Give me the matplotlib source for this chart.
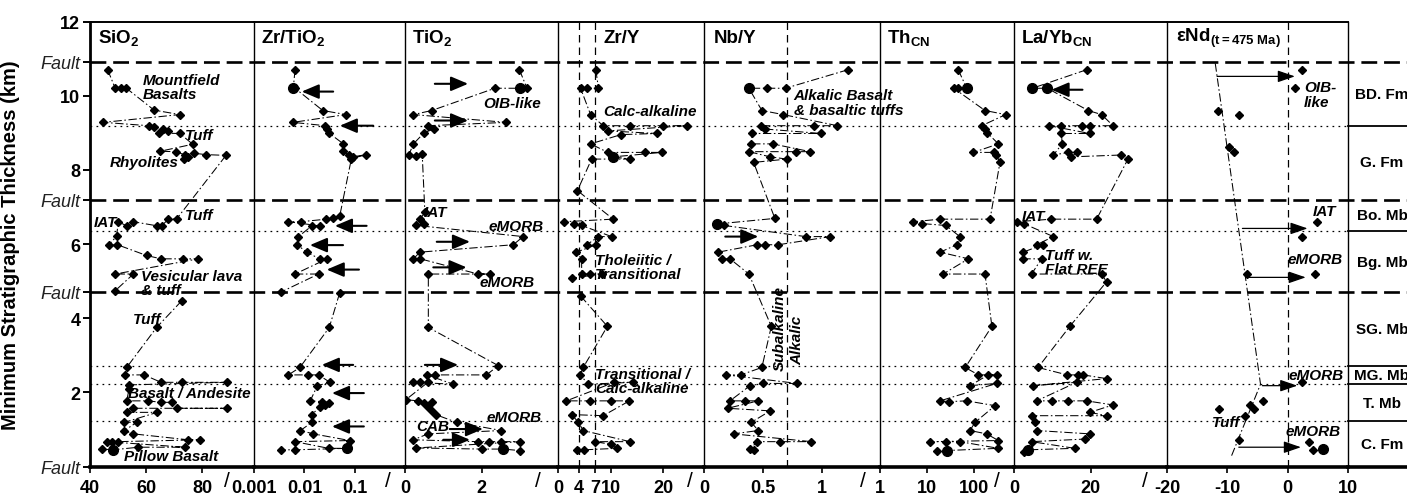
import numpy as np
import matplotlib.pyplot as plt
from matplotlib import font_manager
from matplotlib.ticker import NullLocator

nan = np.nan

# stratigraphic markers (km)
faults = [10.92, 7.2, 4.71, 0.0]
contacts = [9.19, 6.35, 2.71, 2.22, 1.22]
formations = ['BD. Fm', 'G. Fm', 'Bo. Mb', 'Bg. Mb', 'SG. Mb', 'MG. Mb', 'T. Mb', 'C. Fm']
formation_km = [10.05, 8.2, 6.78, 5.52, 3.7, 2.47, 1.72, 0.6]

# SiO2 (wt%)
sio2_km = [10.7, 10.2, 10.2, 10.2, 9.61, 9.49, 9.28, 9.19, 9.15, 9.1, 9.05, 8.99, 8.98, 8.69,
           8.5, 8.49, 8.4, 8.35, 8.3, 8.45, 8.41, 8.39, 6.68, 6.67, 6.49, 6.49, 6.6, 6.49, 6.6,
           6.21, 5.98, 5.98, 5.69, 5.6, 5.6, 5.6, 5.19, 5.19, 4.74, nan,
           4.47, 3.75, 2.67, 2.47, 2.47, 2.27, 2.27, 2.27, 2.2, 2.1, 1.77, 1.77, 1.73, 1.73, 1.57,
           1.57, 1.57, 1.46, 1.46, 1.19, 1.19, 0.97, 0.88, 0.72, 0.72, 0.67, 0.67, 0.67, 0.52,
           0.52, 0.45, 0.47]
sio2_val = [46.3, 49, 51, 53, 62.9, 72.1, 44.8, 61, 63, 66, 68, 64.8, 72.1, 76.7,
            65, 70.7, 74, 75, 73.5, 77, 81.4, 88.6, 71, 68, 65.6, 64, 55.5, 53.1, 50.1,
            49.5, 46.8, 49.8, 60.2, 65.4, 73.3, 78.7, 49, 55.5, 49, nan,
            72.8, 63.8, 53.1, 52.5, 59.3, 65.4, 72.8, 88.8, 53.8, 54, 53.1, 60.8, 65.4, 69.2, 71,
            88.8, 55.5, 53.1, 64, 52.3, 56.7, 52.3, 55.5, 75.1, 79.3, 50, 48, 46, 74,
            57.3, 48.3, 44.2]
sio2_large = [70]

# Zr/TiO2
zrti_km = [10.7, 10.2, 10.2, 9.6, 9.49, 9.28, 9.19, 9.1, 9.0, 8.7, 8.5, 8.4, 8.35, 8.41, 8.3,
           6.76, 6.69, 6.67, 6.6, 6.6, 6.49, 6.49, 6.2, 5.98, 5.78, 5.6, 5.6, 5.19, 5.19, 4.71, nan,
           4.69, 3.75, 2.67, 2.47, 2.47, 2.47, 2.27, 2.18, 1.77, 1.75, 1.7, 1.65, 1.6, 1.4, 1.19,
           0.97, 0.88, 0.7, 0.67, 0.49, 0.49, 0.45, 0.45]
zrti_val = [0.0065, 0.006, 0.0065, 0.023, 0.066, 0.0059, 0.026, 0.028, 0.03, 0.059, 0.059, 0.075,
            0.09, 0.166, 0.085, 0.05, 0.036, 0.027, 0.0085, 0.0048, 0.02, 0.014, 0.0076, 0.0072,
            0.011, 0.02, 0.028, 0.0065, 0.019, 0.0035, nan,
            0.05, 0.031, 0.0081, 0.0048, 0.012, 0.019, 0.032, 0.018, 0.013, 0.022, 0.03, 0.025,
            0.02, 0.014, 0.014, 0.0083, 0.015, 0.079, 0.0065, 0.03, 0.069, 0.0065, 0.0035]
zrti_large = [1, 51]

# TiO2 (wt%)
tio2_km = [10.7, 10.2, 10.2, 10.2, 9.6, 9.49, 9.28, 9.19, 9.1, 9.0, 8.7, 8.4, 8.38, 8.42,
           6.85, 6.67, 6.55, 6.5, 6.2, 5.98, 5.78, 5.6, 5.6, 5.19, 5.19, 5.19, 3.75, 2.72, 2.47,
           2.47, 2.47, 2.22, 2.27, 2.27, 2.27, 1.8, 1.77, 1.7, 1.75, 1.6, 1.5, 1.4, 1.19, 0.97,
           0.88, 0.72, 0.67, 0.67, 0.67, 0.67, 0.5, 0.47, 0.47, 0.43]
tio2_val = [2.99, 3.19, 3.0, 2.35, 0.7, 0.22, 2.65, 0.6, 0.75, 0.5, 0.22, 0.1, 0.3, 0.45,
            0.52, 0.39, 0.5, 0.3, 3.09, 2.83, 0.39, 0.22, 0.4, 1.91, 2.22, 0.61, 0.61, 2.44, 2.13,
            0.78, 0.57, 1.26, 0.22, 0.4, 0.6, 0.02, 0.35, 0.5, 0.7, 0.6, 0.7, 0.8, 1.35, 2.52,
            0.6, 0.22, 1.9, 2.2, 2.5, 3.0, 0.3, 2.0, 2.57, 3.0]
tio2_large = [2, 52]

# Zr/Y
zry_km = [10.7, 10.2, 10.2, 10.2, 9.49, 9.19, 9.19, 9.19, 9.19, 9.05, 8.98, 8.95, 8.7, 8.47,
          8.47, 8.47, 8.35, 8.29, 8.29, 7.44, 6.67, 6.6, 6.55, 6.5, 6.2, 6.2, 5.98, 5.98, 5.78,
          5.6, 5.19, 5.19, 5.19, 5.08, nan,
          4.6, 3.78, 2.67, 2.47, 2.22, 2.27, 2.27, 1.77, 1.77, 1.77, 1.77, 1.37, 1.4, 1.19, 0.97,
          0.67, 0.67, 0.6, 0.49, 0.45, 0.45]
zry_val = [7.2, 7.7, 5.5, 4.3, 6.2, 8.6, 13.8, 20, 24.5, 9.5, 18.8, 12, 6.2, 9.5,
           16.6, 19.8, 10.5, 13.7, 6.4, 3.7, 10.5, 1.1, 3, 4.5, 10.2, 7.7, 5.5, 7.3, 3.5,
           4.5, 4.5, 6.1, 8.4, 2.6, nan,
           4.3, 9.4, 4.8, 4.2, 5.8, 14.3, 10.7, 1.6, 6, 10, 13.6, 8.6, 2.6, 3.9, 4.8,
           13.7, 7, 10, 11.2, 5, 3.7]
zry_large = [16]

# Nb/Y
nby_km = [10.7, 10.2, 10.2, 10.2, 9.6, 9.49, 9.19, 9.19, 9.19, 9.1, 8.98, 8.98, 8.7, 8.7, 8.49,
          8.49, 8.49, 8.35, 8.29, 8.2, 6.69, 6.54, 6.5, 6.2, 6.2, 5.98, 5.98, 5.98, 5.78, 5.6,
          5.6, 5.19, 3.78, 2.67, 2.47, 2.47, 2.24, 2.24, 2.18, 1.77, 1.77, 1.77, 1.57, 1.5, 1.19,
          0.97, 0.88, 0.67, 0.67, 0.67, 0.47, 0.45]
nby_val = [1.22, 0.69, 0.53, 0.38, 0.49, 0.67, 1.13, 0.93, 0.48, 0.52, 0.99, 0.41, 0.4, 0.58, 0.9,
           0.78, 0.38, 0.56, 0.7, 0.42, 0.6, 0.11, 0.17, 0.86, 1.07, 0.63, 0.52, 0.45, 0.12, 0.15,
           0.22, 0.38, 0.57, 0.49, 0.31, 0.19, 0.79, 0.5, 0.39, 0.22, 0.35, 0.46, 0.2, 0.56, 0.4,
           0.46, 0.25, 0.91, 0.64, 0.45, 0.39, 0.42]
nby_large = [3, 21]

# Th (chondrite normalised)
th_km = [10.7, 10.2, 10.2, 10.2, 9.6, 9.49, 9.19, 9.1, 9.0, 8.7, 8.47, 8.47, 8.4, 8.2, 6.67,
         6.67, 6.6, 6.55, 6.5, 6.2, 5.98, 5.78, 5.6, 5.19, 5.19, 3.78, 2.67, 2.47, 2.47, 2.47,
         2.18, 2.24, 1.77, 1.75, 1.77, 1.64, 1.19, 0.97, 0.88, 0.7, 0.67, 0.67, 0.67, 0.49,
         0.43, 0.42]
th_val = [46, 70, 45, 37, 171, 470, 146, 170, 190, 330, 97, 260, 300, 356, 219,
          19, 5.1, 8, 25, 50, 43, 19, 76, 22, 171, 240, 65, 124, 302, 200,
          82, 302, 19, 30, 70, 280, 105, 82, 185, 330, 11.6, 25, 50, 330,
          26, 16]
th_large = [1, 44]

# La/Yb (chondrite normalised)
layb_km = [10.7, 10.2, 10.2, 9.6, 9.49, 9.19, 9.19, 9.19, 9.19, 9.19, 8.98, 8.98, 8.7, 8.4,
           8.47, 8.47, 8.35, 8.4, 8.29, 6.67, 6.67, 6.6, 6.55, 6.2, 5.98, 5.98, 5.78, 5.6, 5.6,
           5.19, 5.19, 4.98, 3.78, 2.67, 2.47, 2.47, 2.47, 2.37, 2.18, 2.27, 1.77, 1.77, 1.77,
           1.77, 1.66, 1.46, 1.37, 1.37, 1.19, 0.97, 0.88, 0.74, 0.67, 0.49, 0.45, 0.4]
layb_val = [19.0, 4.8, 8.7, 19.4, 22.9, 25.9, 19.8, 17.7, 12.4, 9.2, 19.8, 12.4, 12.6, 10.3,
            14.2, 16.4, 15, 28.1, 29.8, 21.6, 9.8, 0.7, 2.5, 10.3, 5.9, 7.5, 2.4, 2.4, 7.2,
            4.6, 22.9, 24.2, 14.6, 6.3, 13.9, 16.8, 18.1, 24.2, 5.0, 16.4, 5.9, 10, 14,
            19, 25.9, 19.8, 24.2, 4.6, 5.6, 5.9, 19.8, 18.5, 4.6, 15.9, 3.7, 2.5]
layb_large = [1, 2, 54]

# eNd(t=475 Ma)
end_km = [10.7, 10.2, 9.6, 9.49, 8.61, 8.49, 6.58, 6.18, 5.19, 5.19, 2.29, 1.76, 1.67, 1.55,
          1.55, 1.37, 0.71, 0.67, 0.45, 0.47]
end_val = [2.4, 1.2, -11.6, -8.0, -9.7, -8.9, 4.8, 2.4, -6.7, 4.6, 2.4, -4.1, -6.3, -5.5,
           -11.4, -7.0, -8.1, 3.6, 4.2, 5.9]
end_large = [19]
end_trend_km = [10.87, 2.22, 0.29]
end_trend_val = [-12.0, -4.5, -9.3]

# arrows: (km, tail, tip)
arrows = {
    1: [(10.11, 0.037, 0.0088), (9.19, 0.23, 0.05), (6.49, 0.17, 0.04), (5.97, 0.058, 0.0128),
        (5.31, 0.12, 0.0275), (2.74, 0.092, 0.022), (1.98, 0.15, 0.035), (1.08, 0.15, 0.035)],
    2: [(10.32, 0.78, 1.65), (9.33, 0.78, 1.65), (6.06, 0.83, 1.7), (5.37, 0.74, 1.61),
        (2.74, 0.52, 1.39), (1.01, 1.17, 2.04), (0.72, 1.0, 1.7)],
    4: [(6.2, 0.18, 0.46)],
    6: [(10.16, 17.9, 9.8)],
}
end_arrows = [(10.52, -11.7, 1.2), (6.42, -7.5, 3.3), (5.10, -6.7, 3.0), (2.18, -4.2, 1.6),
              (0.52, -8.1, 2.2)]

names = {f.name for f in font_manager.fontManager.ttflist}
NARROW = 'Liberation Sans Narrow' in names
tickfont = 'Liberation Sans Narrow' if NARROW else 'Liberation Sans'
ticksize = 15 if NARROW else 13

plt.rcParams['font.family'] = ['Liberation Sans', 'DejaVu Sans']
plt.rcParams['mathtext.fontset'] = 'custom'
plt.rcParams['mathtext.rm'] = 'Liberation Sans:bold'
plt.rcParams['mathtext.it'] = 'Liberation Sans:bold:italic'
plt.rcParams['mathtext.bf'] = 'Liberation Sans:bold'
plt.rcParams['mathtext.default'] = 'rm'

W, H = 1407, 502
fig = plt.figure(figsize=(W / 100, H / 100), dpi=100)
ybot, ytop = 467.5, 22.5
edges = [90, 254, 405, 558, 704, 880, 1014, 1167, 1348]


def rect(x0, x1):
    return [x0 / W, (H - ybot) / H, (x1 - x0) / W, (ybot - ytop) / H]


# background: stratigraphic lines and the formation column
bg = fig.add_axes(rect(90, 1500), zorder=0)
bg.set_xlim(90, 1500)
bg.set_ylim(0, 12)
bg.axis('off')
for f in faults[:-1]:
    bg.plot([90, 1500], [f, f], color='k', lw=1.9, ls=(0, (6, 2.6)), clip_on=False)
for c in contacts:
    bg.plot([90, 1348], [c, c], color='k', lw=0.9, ls=(0, (1.4, 3.4)))
    bg.plot([1348, 1500], [c, c], color='k', lw=1.3)
bg.plot([1348, 1500], [0, 0], color='k', lw=2.6, clip_on=False)
for lab, km in zip(formations, formation_km):
    bg.text(1382, km, lab, ha='center', va='center', fontsize=11, fontweight='bold')

panels = [
    ('SiO$_2$', sio2_km, sio2_val, sio2_large, (40, 98.6), 'linear', [40, 60, 80], ['40', '60', '80'], 8),
    ('Zr/TiO$_2$', zrti_km, zrti_val, zrti_large, (0.001, 0.98), 'log', [0.001, 0.01, 0.1],
     ['0.001', '0.01', '0.1'], 7),
    ('TiO$_2$', tio2_km, tio2_val, tio2_large, (0, 4), 'linear', [0, 2], ['0', '2'], 7),
    ('Zr/Y', zry_km, zry_val, zry_large, (0, 27.8), 'linear', [0, 4, 7, 10, 20],
     ['0', '4', '7', '10', '20'], 45),
    ('Nb/Y', nby_km, nby_val, nby_large, (0, 1.49), 'linear', [0, 0.5, 1], ['0', '0.5', '1'], 10),
    ('Th$_{\\rm CN}$', th_km, th_val, th_large, (1, 708), 'log', [1, 10, 100], ['1', '10', '100'], 7),
    ('La/Yb$_{\\rm CN}$', layb_km, layb_val, layb_large, (0, 40), 'linear', [0, 20], ['0', '20'], 7),
    ('εNd$_{(t=475\\ Ma)}$', end_km, end_val, end_large, (-20, 10), 'linear', [-20, -10, 0, 10],
     ['-20', '-10', '0', '10'], 9),
]
refs = {3: [4, 7], 4: [0.7], 7: [0]}
dashdot = (0, (8, 2.5, 1.5, 2.5))

axes = []
for i, (title, km, val, large, xlim, scale, ticks, tlabels, toff) in enumerate(panels):
    ax = fig.add_axes(rect(edges[i], edges[i + 1]), zorder=1)
    ax.set_facecolor('none')
    ax.set_xscale(scale)
    ax.set_xlim(*xlim)
    ax.set_ylim(0, 12)
    if i < 7:
        ax.plot(val, km, color='k', lw=0.75, ls=dashdot, marker='D', ms=3.8, mfc='k', mec='k')
    else:
        ax.plot(end_trend_val, end_trend_km, color='k', lw=0.75, ls=dashdot)
        ax.plot(val, km, ls='none', marker='D', ms=3.8, mfc='k', mec='k')
    ax.plot([val[j] for j in large], [km[j] for j in large], ls='none', marker='o', ms=7, color='k')
    for r in refs.get(i, []):
        ax.axvline(r, color='k', lw=0.9, ls=(0, (6, 4)))
    for s in ['top', 'left', 'right']:
        ax.spines[s].set_linewidth(1.0)
    ax.spines['top'].set_linewidth(1.4)
    ax.spines['bottom'].set_linewidth(2.6)
    ax.spines['right'].set_visible(i == 7)
    if i == 0:
        ax.spines['left'].set_linewidth(2.0)
    ax.set_xticks(ticks)
    ax.set_xticklabels(tlabels, fontfamily=tickfont, fontsize=ticksize, fontweight='bold')
    ax.xaxis.set_minor_locator(NullLocator())
    ax.tick_params(axis='x', direction='out', length=4, width=1.2, pad=5)
    ax.yaxis.set_minor_locator(NullLocator())
    if i > 0:
        ax.set_yticks([])
    ax.annotate(title, xy=(0, 11.58), xycoords=('axes fraction', 'data'),
                xytext=(toff * 0.72, 0), textcoords='offset points', va='center', ha='left',
                fontsize=13.5, fontweight='bold')
    for km_a, tail, tip in arrows.get(i, []):
        ax.annotate('', xy=(tip, km_a), xytext=(tail, km_a),
                    arrowprops=dict(arrowstyle='-|>,head_length=0.52,head_width=0.22',
                                    mutation_scale=20, lw=1.5, color='k',
                                    shrinkA=0, shrinkB=0))
    axes.append(ax)

for km_a, tail, tip in end_arrows:
    axes[7].annotate('', xy=(tip, km_a), xytext=(tail, km_a),
                     arrowprops=dict(arrowstyle='-|>,head_length=0.7,head_width=0.24',
                                     mutation_scale=15, lw=0.9, color='k',
                                     shrinkA=0, shrinkB=0))

# y axis on the first panel
ax0 = axes[0]
yt = [0, 2, 4, 4.71, 6, 7.2, 8, 10, 10.92, 12]
ylabs = ['Fault', '2', '4', 'Fault', '6', 'Fault', '8', '10', 'Fault', '12']
ax0.set_yticks(yt)
ax0.set_yticklabels(ylabs)
for t, lab in zip(ax0.get_yticklabels(), ylabs):
    if lab == 'Fault':
        t.set_fontstyle('italic')
        t.set_fontsize(13)
        t.set_color('#222222')
    else:
        t.set_fontweight('bold')
        t.set_fontsize(13)
ax0.tick_params(axis='y', direction='out', length=5, width=1.4, pad=2)
ax0.set_ylabel('Minimum Stratigraphic Thickness (km)', fontfamily=tickfont,
               fontsize=15.5 if NARROW else 14.5, fontweight='bold')
ax0.yaxis.set_label_coords(-(90 - 20) / 164, 0.5)

# annotations
it = dict(fontsize=11, fontweight='bold', fontstyle='italic', va='center', ha='left',
          linespacing=1.05)
notes = [
    (0, 'Mountfield\nBasalts', 58.9, 10.23), (0, 'Tuff', 73.9, 8.94), (0, 'Rhyolites', 46.9, 8.2),
    (0, 'IAT', 41.5, 6.59), (0, 'Tuff', 73.9, 6.78), (0, 'Vesicular lava\n& tuff', 58.4, 4.95),
    (0, 'Tuff', 55.5, 3.98), (0, 'Basalt / Andesite', 53.5, 1.98), (0, 'Pillow Basalt', 52.3, 0.28),
    (2, 'OIB-like', 2.04, 9.8), (2, 'IAT', 0.48, 6.86), (2, 'eMORB', 2.18, 6.49),
    (2, 'eMORB', 1.96, 4.97), (2, 'eMORB', 2.13, 1.33), (2, 'CAB', 0.3, 1.1),
    (3, 'Calc-alkaline', 8.6, 9.58), (3, 'Tholeiitic /\nTransitional', 7.0, 5.38),
    (3, 'Transitional /\nCalc-alkaline', 7.0, 2.31),
    (4, 'Alkalic Basalt\n& basaltic tuffs', 0.76, 9.82),
    (6, 'IAT', 2.0, 6.76), (6, 'Tuff w.\nFlat REE', 8.1, 5.52),
    (7, 'OIB-\nlike', 2.7, 10.03), (7, 'IAT', 4.2, 6.9), (7, 'eMORB', 0.05, 5.6),
    (7, 'eMORB', 0.2, 2.47), (7, 'eMORB', -0.3, 0.97), (7, 'Tuff', -12.5, 1.19),
]
for i, txt, x, y in notes:
    axes[i].text(x, y, txt, **it)
axes[4].text(0.644, 3.75, 'Subalkaline', rotation=90, fontsize=11, fontweight='bold',
             fontstyle='italic', ha='center', va='center')
axes[4].text(0.786, 3.44, 'Alkalic', rotation=90, fontsize=11, fontweight='bold',
             fontstyle='italic', ha='center', va='center')

# axis-break marks between the panels
for bx in [227, 388, 538, 690, 863, 997, 1145]:
    fig.text(bx / W, (H - 482) / H, '/', fontsize=15, ha='center', va='center')

plt.savefig('out.png', dpi=100)
